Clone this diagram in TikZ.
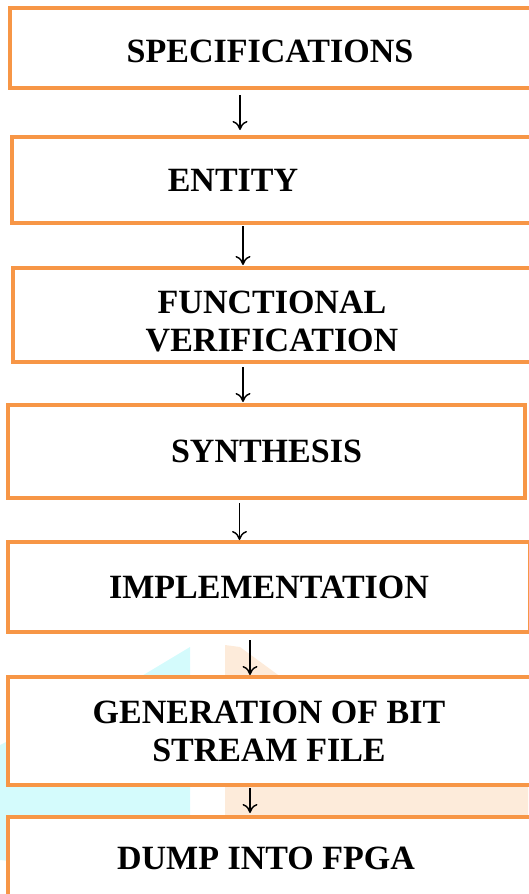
\documentclass[tikz,border=0pt]{standalone}
\usepackage{fontspec}
\setmainfont{Liberation Serif}
\usetikzlibrary{arrows.meta}
\definecolor{boxorange}{HTML}{F79646}
\definecolor{wmcyan}{HTML}{D4FBFC}
\definecolor{wmorange}{HTML}{FDEBDA}

\begin{document}
\begin{tikzpicture}[x=1pt,y=-1pt,
  stage/.style={draw=boxorange, line width=4pt, fill=white, rectangle, inner sep=0pt,
    align=center, font=\fontsize{34}{38}\selectfont\bfseries},
  flow/.style={line width=1.4pt, -{To[length=9pt,width=15pt]}}]

\useasboundingbox (0,0) rectangle (528,894);

% faint watermark behind the boxes
\fill[wmcyan] (0,860) -- (0,745) -- (135,680) -- (190,647) -- (190,880) -- cycle;
\fill[wmorange] (225,645) -- (240,647) -- (285,680) -- (528,780) -- (528,894) -- (225,894) -- cycle;


\node[stage, minimum width=526pt, minimum height=80pt, text height=30pt] (b1) at (273,48) {SPECIFICATIONS\rule{6pt}{0pt}};
\node[stage, minimum width=524pt, minimum height=86pt] (b2) at (274,180) {ENTITY\rule{82pt}{0pt}};
\node[stage, minimum width=523pt, minimum height=94pt] (b3) at (274.5,315) {\rule{0pt}{35pt}FUNCTIONAL\rule{5pt}{0pt}\\VERIFICATION\rule{5pt}{0pt}};
\node[stage, minimum width=517pt, minimum height=93pt] (b4) at (266.5,451.5) {SYNTHESIS};
\node[stage, minimum width=522pt, minimum height=90pt] (b5) at (269,587) {IMPLEMENTATION};
\node[stage, minimum width=528pt, minimum height=108pt] (b6) at (272,731) {GENERATION OF BIT\rule{6pt}{0pt}\\STREAM FILE\rule{6pt}{0pt}};
\node[stage, minimum width=528pt, minimum height=83pt] (b7) at (272,858.5) {DUMP INTO FPGA\rule{12pt}{0pt}};

\foreach \from/\to/\dx/\s/\e in {b1/b2/-33/5/5, b2/b3/-31/1/1, b3/b4/-31.5/3/1,
                                 b4/b5/-27/3/0, b5/b6/-19/6/0, b6/b7/-22/1/2}
\draw[flow, shorten <=\s pt, shorten >=\e pt] ([xshift=\dx pt]\from.south) -- ([xshift=\dx pt]\from.south |- \to.north);

\end{tikzpicture}
\end{document}
